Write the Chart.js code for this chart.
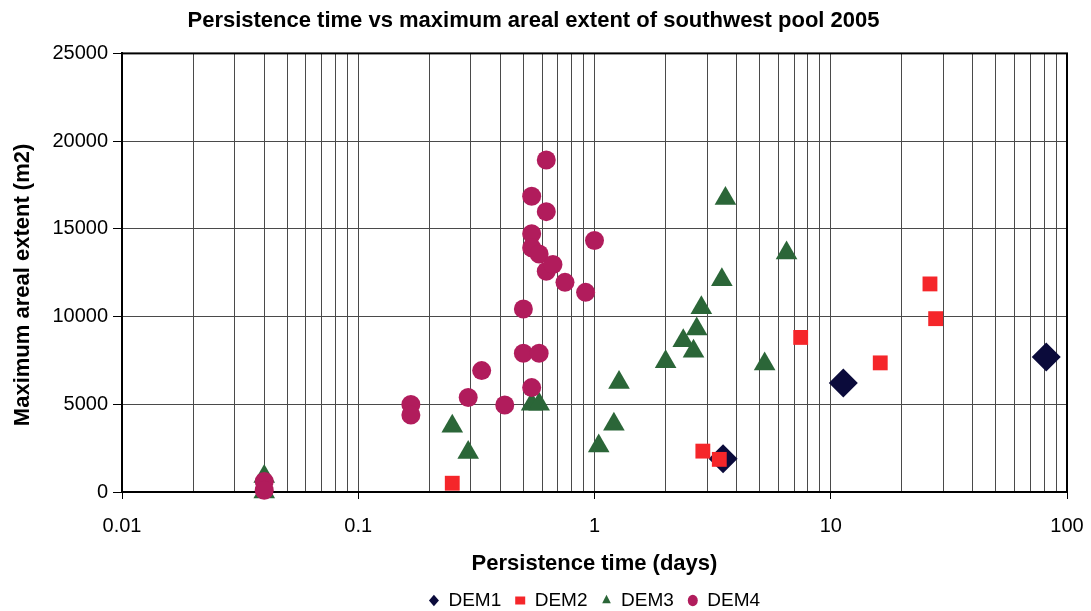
<!DOCTYPE html>
<html>
<head>
<meta charset="utf-8">
<script src="https://cdn.jsdelivr.net/npm/chart.js@4.4.0/dist/chart.umd.min.js"></script>
<style>
  body { margin: 0; background: #fff; }
  canvas { display: block; }
</style>
</head>
<body>
<canvas id="poolChart" width="1091" height="611"></canvas>
<script>
// Persistence time (days) vs maximum areal extent (m2), southwest pool 2005

const xMajorTicks = [0.01, 0.1, 1, 10, 100];
const xTickLabels = ['0.01', '0.1', '1', '10', '100'];
const yTickStep = 5000;

const dem1 = [[3.5, 1900], [11.3, 6220], [81.7, 7700]];

const dem2 = [
  [0.25, 500], [2.875, 2330], [3.375, 1860], [7.46, 8810],
  [16.2, 7360], [26.3, 11860], [27.8, 9880]
];

const dem3 = [
  [0.04, 890], [0.04, 0], [0.25, 3750], [0.292, 2250],
  [0.542, 5000], [0.583, 5000], [1.042, 2620], [1.208, 3860],
  [1.27, 6245], [2.0, 7425], [2.375, 8625], [2.625, 8020],
  [2.708, 9295], [2.833, 10500], [3.46, 12100], [3.583, 16730],
  [5.25, 7290], [6.5, 13625]
];

const dem4 = [
  [0.04, 600], [0.04, 100], [0.167, 4990], [0.167, 4390],
  [0.292, 5390], [0.333, 6920], [0.417, 4960], [0.5, 10430],
  [0.5, 7910], [0.583, 7910], [0.542, 5950], [0.542, 16860],
  [0.542, 14720], [0.542, 13920], [0.583, 13570], [0.625, 18920],
  [0.625, 15980], [0.625, 12580], [0.667, 12970], [0.75, 11950],
  [0.917, 11380], [1.0, 14340]
];

// log grid: 1..9 in every decade
const xGridValues = [];
for (let i = 0; i < xMajorTicks.length - 1; i++) {
  for (let m = 1; m < 10; m++) {
    xGridValues.push(Number((xMajorTicks[i] * m).toPrecision(6)));
  }
}
xGridValues.push(xMajorTicks[xMajorTicks.length - 1]);

function majorIndex(v) {
  return xMajorTicks.findIndex(t => Math.abs(t - v) / t < 1e-6);
}

function toPoints(arr) {
  return arr.map(p => ({ x: p[0], y: p[1] }));
}

// black frame round the plot area (top and right edges)
const framePlugin = {
  id: 'frame',
  beforeDatasetsDraw(chart) {
    const a = chart.chartArea;
    const ctx = chart.ctx;
    ctx.save();
    ctx.strokeStyle = '#000';
    ctx.lineWidth = 2;
    ctx.strokeRect(a.left, a.top, a.right - a.left, a.bottom - a.top);
    ctx.restore();
  }
};

Chart.defaults.font.family = "'Liberation Sans', Arial, sans-serif";
Chart.defaults.color = '#000';

const ctx = document.getElementById('poolChart').getContext('2d');
new Chart(ctx, {
  type: 'scatter',
  data: {
    datasets: [
      {
        label: 'DEM1', data: toPoints(dem1), order: 4,
        pointStyle: 'rectRot', pointRadius: 14.5, pointHoverRadius: 14.5,
        backgroundColor: '#0b0b3b', borderColor: '#0b0b3b', borderWidth: 0, clip: false
      },
      {
        label: 'DEM2', data: toPoints(dem2), order: 3,
        pointStyle: 'rect', pointRadius: 10.5, pointHoverRadius: 10.5,
        backgroundColor: '#f5262a', borderColor: '#f5262a', borderWidth: 0, clip: false
      },
      {
        label: 'DEM3', data: toPoints(dem3), order: 2,
        pointStyle: 'triangle', pointRadius: 12.5, pointHoverRadius: 12.5,
        backgroundColor: '#2b6638', borderColor: '#2b6638', borderWidth: 0, clip: false
      },
      {
        label: 'DEM4', data: toPoints(dem4), order: 1,
        pointStyle: 'circle', pointRadius: 9.5, pointHoverRadius: 9.5,
        backgroundColor: '#b11c5c', borderColor: '#b11c5c', borderWidth: 0, clip: false
      }
    ]
  },
  options: {
    responsive: false,
    animation: false,
    layout: { padding: { left: 0, right: 24, top: 0, bottom: -9 } },
    scales: {
      x: {
        type: 'logarithmic',
        min: 0.01,
        max: 100,
        afterBuildTicks: (scale) => {
          scale.ticks = xGridValues.map(v => ({ value: v, major: majorIndex(v) >= 0 }));
        },
        afterFit: (scale) => {
          scale.paddingLeft = 0;
          scale.paddingRight = 0;
        },
        ticks: {
          autoSkip: false,
          maxRotation: 0,
          padding: 15,
          font: { size: 20 },
          callback: (value) => {
            const i = majorIndex(value);
            return i >= 0 ? xTickLabels[i] : '';
          }
        },
        grid: {
          color: '#4a4a4a',
          lineWidth: 1,
          tickLength: 7,
          tickColor: (c) => (c.tick && majorIndex(c.tick.value) >= 0) ? '#000' : 'rgba(0,0,0,0)'
        },
        border: { color: '#000', width: 2 },
        title: {
          display: true,
          text: 'Persistence time (days)',
          font: { size: 22, weight: 'bold', lineHeight: 1 },
          padding: { top: 0, bottom: 2 }
        }
      },
      y: {
        min: 0,
        max: 25000,
        afterFit: (scale) => { scale.width = 122; },
        ticks: {
          stepSize: yTickStep,
          padding: 5,
          font: { size: 20 },
          callback: (value) => String(value)
        },
        grid: { color: '#4a4a4a', lineWidth: 1, tickLength: 9, tickColor: '#000' },
        border: { color: '#000', width: 2 },
        title: {
          display: true,
          text: 'Maximum areal extent (m2)    ',
          font: { size: 22, weight: 'bold' },
          padding: { top: 10, bottom: 0 }
        }
      }
    },
    plugins: {
      title: {
        display: true,
        text: 'Persistence time vs maximum areal extent of southwest pool 2005',
        font: { size: 22, weight: 'bold' },
        padding: { top: 8, bottom: 19 }
      },
      legend: {
        position: 'bottom',
        fullSize: false,
        labels: {
          usePointStyle: true,
          boxHeight: 8,
          pointStyleWidth: 10,
          padding: 14,
          font: { size: 19 },
          sort: (a, b) => a.datasetIndex - b.datasetIndex
        }
      },
      tooltip: { enabled: false }
    }
  },
  plugins: [framePlugin]
});
</script>
</body>
</html>
